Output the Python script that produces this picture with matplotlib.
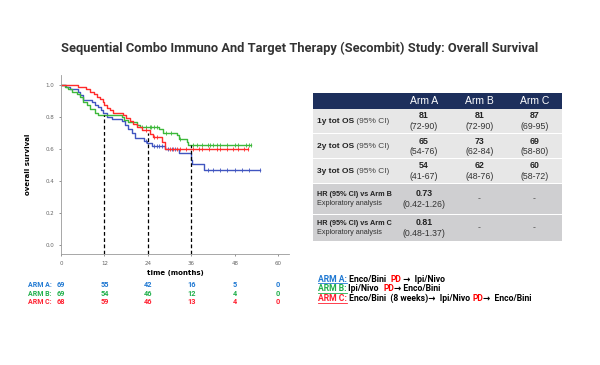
import numpy as np
import matplotlib
matplotlib.use('Agg')
import matplotlib.pyplot as plt
from matplotlib.patches import Rectangle
from matplotlib.transforms import blended_transform_factory

# Kaplan-Meier steps (months, survival)
a_t = [0, 1.5, 2.5, 4.8, 5.3, 6.2, 8.5, 9.4, 10.3, 11.0, 11.7, 12.6, 14.0, 16.8, 17.7, 18.6,
       19.5, 20.5, 22.8, 23.7, 25.1, 28.8, 32.5, 36.0, 36.2, 39.4, 55.1]
a_s = [1.0, 0.985, 0.97, 0.955, 0.935, 0.905, 0.89, 0.875, 0.86, 0.84, 0.82, 0.80, 0.785, 0.77,
       0.75, 0.72, 0.70, 0.665, 0.65, 0.635, 0.615, 0.60, 0.57, 0.53, 0.505, 0.465, 0.465]
a_cens = [23.5, 25.8, 26.6, 27.2, 27.8, 29.6, 30.6, 31.6, 40.5, 42.0, 44.0, 46.0, 48.0, 50.0, 52.0, 55.1]

b_t = [0, 1.1, 1.8, 3.0, 4.3, 5.2, 6.2, 7.1, 8.0, 9.4, 10.3, 16.8, 17.3, 18.6, 21.0, 21.9,
       27.0, 28.3, 32.0, 32.5, 34.8, 35.2, 52.6]
b_s = [1.0, 0.985, 0.97, 0.955, 0.94, 0.92, 0.89, 0.87, 0.85, 0.825, 0.81, 0.795, 0.78, 0.765,
       0.75, 0.735, 0.72, 0.695, 0.685, 0.66, 0.64, 0.62, 0.62]
b_cens = [22.5, 23.5, 24.5, 25.0, 25.6, 26.5, 29.0, 30.5, 33.0, 36.5, 37.5, 39.0, 40.5, 41.2,
          42.0, 43.0, 44.0, 46.0, 48.0, 49.0, 51.0, 52.0, 52.6]

c_t = [0, 4.6, 7.0, 8.0, 9.0, 10.0, 10.8, 11.5, 12.0, 12.6, 13.5, 14.5, 17.0, 18.0, 19.0,
       20.0, 21.0, 22.5, 24.5, 25.5, 28.0, 28.8, 51.6]
c_s = [1.0, 0.985, 0.97, 0.955, 0.94, 0.925, 0.91, 0.89, 0.87, 0.855, 0.84, 0.825, 0.81, 0.79,
       0.77, 0.755, 0.735, 0.715, 0.69, 0.675, 0.64, 0.60, 0.60]
c_cens = [23.5, 25.8, 26.6, 30.0, 31.0, 32.0, 33.0, 34.5, 36.5, 38.0, 39.0, 41.0, 43.0, 44.0,
          46.0, 47.5, 49.0, 50.5, 51.6]

landmarks = [12, 24, 36]
landmark_top = [0.81, 0.70, 0.62]

risk_times = [0, 12, 24, 36, 48, 60]
risk_labels = ['ARM A:', 'ARM B:', 'ARM C:']
risk_a = [69, 55, 42, 16, 5, 0]
risk_b = [69, 54, 46, 12, 4, 0]
risk_c = [68, 59, 46, 13, 4, 0]

col_headers = ['Arm A', 'Arm B', 'Arm C']
row_bold = ['1y tot OS', '2y tot OS', '3y tot OS', 'HR (95% CI) vs Arm B', 'HR (95% CI) vs Arm C']
row_rest = [' (95% CI)', ' (95% CI)', ' (95% CI)', 'Exploratory analysis', 'Exploratory analysis']
cell_main = [['81', '81', '87'], ['65', '73', '69'], ['54', '62', '60'],
             ['0.73', '-', '-'], ['0.81', '-', '-']]
cell_ci = [['(72-90)', '(72-90)', '(69-95)'], ['(54-76)', '(62-84)', '(58-80)'],
           ['(41-67)', '(48-76)', '(58-72)'], ['(0.42-1.26)', '', ''], ['(0.48-1.37)', '', '']]

line_cols = ['#4055c0', '#3db83a', '#ff2b2b']
text_cols = ['#1f78d2', '#1faf4a', '#ff1f2f']

fig = plt.figure(figsize=(6, 3.65), dpi=100)
fig.patch.set_facecolor('white')

# overlay in pixel coordinates for the free-standing text and table
ov = fig.add_axes([0, 0, 1, 1])
ov.set_xlim(0, 600)
ov.set_ylim(365, 0)
ov.axis('off')

sans = ['Roboto', 'DejaVu Sans']
title = ov.text(300, 48, 'Sequential Combo Immuno And Target Therapy (Secombit) Study: Overall Survival',
                ha='center', va='center', fontsize=9, fontweight='bold', color='#333333',
                family='Roboto')

# KM plot
ax = fig.add_axes([61 / 600, 1 - 254 / 365, 228 / 600, 179 / 365])
for t, s, cens, col in [(a_t, a_s, a_cens, line_cols[0]), (b_t, b_s, b_cens, line_cols[1]),
                        (c_t, c_s, c_cens, line_cols[2])]:
    ax.step(t, s, where='post', color=col, lw=1.0)
    cy = [s[np.searchsorted(t, x, side='right') - 1] for x in cens]
    ax.plot(cens, cy, ls='none', marker='|', ms=2.5, mew=0.6, color=col)
ax.set_xlim(0, 63)
ax.set_ylim(-0.058, 1.06)
ax.vlines(landmarks, -0.058, landmark_top, colors='black', linestyles=(0, (3, 2)), lw=0.9)
ax.set_xticks(risk_times)
ax.set_yticks([0.0, 0.2, 0.4, 0.6, 0.8, 1.0])
ax.set_yticklabels(['0.0', '0.2', '0.4', '0.6', '0.8', '1.0'])
ax.tick_params(labelsize=4, colors='#666666', length=1.5, width=0.5)
for sp in ['top', 'right']:
    ax.spines[sp].set_visible(False)
for sp in ['left', 'bottom']:
    ax.spines[sp].set_color('#999999')
    ax.spines[sp].set_linewidth(0.6)
ax.set_xlabel('time (months)', fontsize=5, fontweight='bold', labelpad=3)
ax.set_ylabel('overall survival', fontsize=5, fontweight='bold', labelpad=10)

# numbers at risk
tr = blended_transform_factory(ax.transData, ov.transData)
for lab, vals, col, y in zip(risk_labels, [risk_a, risk_b, risk_c], text_cols, [285, 294, 302.5]):
    ov.text(28, y, lab, ha='left', va='center', fontsize=5, fontweight='bold', color=col,
            family=sans)
    for x, v in zip(risk_times, vals):
        ov.text(x, y, str(v), transform=tr, ha='center', va='center', fontsize=5.3,
                fontweight='bold', color=col, family=sans)

# table
cols_x = [313, 396, 452, 507, 562]
rows_y = [93, 108.5, 133.5, 158.5, 183.5, 214.5, 241]
gap = 0.8
ov.add_patch(Rectangle((cols_x[0], rows_y[0]), cols_x[-1] - cols_x[0], rows_y[1] - rows_y[0],
                       facecolor='#1d2f5c', edgecolor='none'))
for j in range(1, 4):
    ov.add_patch(Rectangle((cols_x[j] - gap / 2, rows_y[0]), gap, rows_y[1] - rows_y[0],
                           facecolor='white', edgecolor='none'))
    ov.text((cols_x[j] + cols_x[j + 1]) / 2, (rows_y[0] + rows_y[1]) / 2 + 0.5, col_headers[j - 1],
            ha='center', va='center', fontsize=7.5, color='white', family='Liberation Sans')
for i in range(5):
    y0, y1 = rows_y[i + 1], rows_y[i + 2]
    fc = '#e7e7e7' if i < 3 else '#cfcfd1'
    for j in range(4):
        ov.add_patch(Rectangle((cols_x[j] + gap / 2, y0 + gap / 2), cols_x[j + 1] - cols_x[j] - gap,
                               y1 - y0 - gap, facecolor=fc, edgecolor='none'))
    ym = (y0 + y1) / 2
    if i < 3:
        t = ov.text(cols_x[0] + 4, ym + 0.5, row_bold[i], ha='left', va='center', fontsize=6,
                    fontweight='bold', color='#222222', family='Liberation Sans')
        ov.annotate(row_rest[i], xycoords=t, xy=(1, 0), va='bottom', fontsize=6,
                    color='#444444', family='Liberation Sans')
    else:
        ov.text(cols_x[0] + 4, ym - 4.5, row_bold[i], ha='left', va='center', fontsize=5.2,
                fontweight='bold', color='#222222', family='Liberation Sans')
        ov.text(cols_x[0] + 4, ym + 4.5, row_rest[i], ha='left', va='center', fontsize=5.2,
                color='#333333', family='Liberation Sans')
    for j in range(3):
        xm = (cols_x[j + 1] + cols_x[j + 2]) / 2
        if cell_ci[i][j]:
            ov.text(xm, ym - 5, cell_main[i][j], ha='center', va='center', fontsize=6.3,
                    fontweight='bold', color='#222222', family='Liberation Sans')
            ov.text(xm, ym + 5.5, cell_ci[i][j], ha='center', va='center', fontsize=6.3,
                    color='#333333', family='Liberation Sans')
        else:
            ov.text(xm, ym, cell_main[i][j], ha='center', va='center', fontsize=6.3,
                    color='#555555', family='Liberation Sans')

# arm description legend
legend_lines = [
    [('ARM A:', text_cols[0]), (' Enco/Bini  ', 'black'), ('PD', 'red'), (' \u2192  Ipi/Nivo', 'black')],
    [('ARM B:', text_cols[1]), (' Ipi/Nivo  ', 'black'), ('PD', 'red'), ('\u2192 Enco/Bini', 'black')],
    [('ARM C:', text_cols[2]), (' Enco/Bini  (8 weeks)\u2192  Ipi/Nivo ', 'black'), ('PD', 'red'),
     ('\u2192  Enco/Bini', 'black')],
]
heads = []
for parts, y in zip(legend_lines, [279, 288.5, 298.5]):
    t = ov.text(318, y, parts[0][0], ha='left', va='center', fontsize=6.2, fontweight='bold',
                color=parts[0][1], family=sans)
    heads.append(t)
    for s, c in parts[1:]:
        t = ov.annotate(s, xycoords=t, xy=(1, 0), va='bottom', fontsize=6.2, fontweight='bold',
                        color=c, family=sans)

fig.canvas.draw()
# squeeze the title into the width it has in the reference (condensed face there)
w = title.get_window_extent().width
title.set_fontsize(9 * 476 / w)
fig.canvas.draw()

inv = ov.transData.inverted()
for t, col in zip(heads, text_cols):
    bb = t.get_window_extent()
    (x0, yb), (x1, _) = inv.transform([[bb.x0, bb.y0], [bb.x1, bb.y1]])
    ov.plot([x0, x1], [yb - 0.3, yb - 0.3], color=col, lw=0.6)

fig.savefig('out.png', dpi=100, facecolor='white')
